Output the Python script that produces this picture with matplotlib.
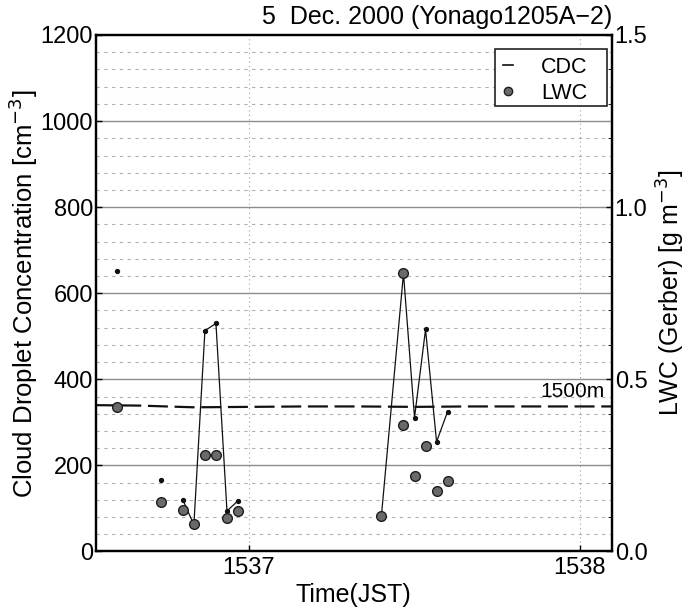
import matplotlib
matplotlib.use("Agg")
import matplotlib.pyplot as plt
from matplotlib.lines import Line2D
from matplotlib.patches import Rectangle
import numpy as np

plt.rcParams['font.family'] = ['Liberation Sans', 'DejaVu Sans']

# ---- data (time in seconds after 15:36:00) ----
cdc_time = [36, 44, 48, 50, 52, 54, 56, 58, 84, 88, 90, 92, 94, 96]
cdc_value = [652, 166, 120, 62, 513, 530, 94, 118, 83, 646, 311, 516, 255, 325]
cdc_segment = [0, 1, 2, 2, 2, 2, 2, 2, 3, 3, 3, 3, 3, 3]

lwc_time = [36, 44, 48, 50, 52, 54, 56, 58, 84, 88, 88, 90, 92, 94, 96]
lwc_value = [0.42, 0.145, 0.12, 0.079, 0.28, 0.28, 0.098, 0.118,
             0.104, 0.81, 0.367, 0.219, 0.307, 0.177, 0.205]

alt_time = [32, 40, 50, 60, 70, 80, 90, 100, 110, 120, 126]
alt_value = [340, 339, 335, 336, 337, 337, 336, 337, 337, 337, 337]
alt_label = "1500m"

x_ticks = [60, 120]
x_tick_labels = ["1537", "1538"]
left_ticks = [0, 200, 400, 600, 800, 1000, 1200]
right_ticks = [0.0, 0.5, 1.0, 1.5]

title = "5  Dec. 2000 (Yonago1205A\u22122)"

# ---- figure ----
fig = plt.figure(figsize=(6.89, 6.14), dpi=100)
ax = fig.add_axes([0.1389, 0.1018, 0.8882 - 0.1389, 0.943 - 0.1018])
ax.set_xlim(32.2, 125.8)
ax.set_ylim(0, 1200)

# grid
for v in np.arange(40, 1200, 40):
    if v % 200 == 0:
        ax.axhline(v, color='#8c8c8c', lw=1.0, zorder=1)
    else:
        ax.axhline(v, color='#b0b0b0', lw=0.8, ls=(0, (3, 4)), zorder=1)
for xv in x_ticks:
    ax.axvline(xv, color='#a0a0a0', lw=0.8, ls=(0, (1, 3)), zorder=1)

# altitude dashed line
ax.plot(alt_time, alt_value, color='#111111', lw=1.6, ls=(0, (9, 3)), zorder=3)
ax.text(124.5, 350, alt_label, ha='right', va='bottom', fontsize=15, zorder=4)

# CDC
ct = np.array(cdc_time); cv = np.array(cdc_value); cs = np.array(cdc_segment)
for s in np.unique(cs):
    m = cs == s
    ax.plot(ct[m], cv[m], color='#111111', lw=0.9, marker='o', ms=2.8,
            mfc='#111111', mec='#111111', zorder=5)

ax.set_xticks(x_ticks)
ax.set_xticklabels(x_tick_labels)
ax.set_yticks(left_ticks)
ax.tick_params(axis='both', direction='in', labelsize=17, length=4, width=1)
ax.tick_params(axis='x', pad=4)
ax.tick_params(axis='y', pad=2)
ax.set_xlabel("Time(JST)", fontsize=18, labelpad=3)
ax.set_ylabel("Cloud Droplet Concentration [cm$^{-3}$]", fontsize=18.5, labelpad=0)
for sp in ax.spines.values():
    sp.set_linewidth(1.6)

# LWC on right axis
ax2 = ax.twinx()
ax2.set_ylim(0, 1.5)
ax2.plot(lwc_time, lwc_value, ls='none', marker='o', ms=7,
         mfc='#6a6a6a', mec='#1e1e1e', mew=1.0, zorder=6)
ax2.set_yticks(right_ticks)
ax2.set_yticklabels(["%.1f" % v for v in right_ticks])
ax2.set_yticks(np.arange(0, 1.51, 0.1), minor=True)
ax2.tick_params(axis='y', direction='in', labelsize=17, length=4, width=1, pad=2)
ax2.tick_params(axis='y', which='minor', direction='in', length=3)
ax2.set_ylabel("LWC (Gerber) [g m$^{-3}$]", fontsize=18, labelpad=5)
for sp in ax2.spines.values():
    sp.set_linewidth(1.6)

# legend box
ax2.add_patch(Rectangle((0.7734, 0.8625), 0.9903 - 0.7734, 0.9729 - 0.8625,
                        transform=ax2.transAxes, facecolor='white',
                        edgecolor='#222222', lw=1.2, zorder=9))
handles = [Line2D([], [], color='#111111', lw=1.2),
           Line2D([], [], ls='none', marker='o', ms=6, mfc='#6a6a6a', mec='#1e1e1e')]
leg = ax2.legend(handles, ["CDC", "LWC"], loc='upper left',
                 bbox_to_anchor=(0.7734, 0.9729), borderaxespad=0,
                 fontsize=15.5, handlelength=0.5, handletextpad=1.3,
                 frameon=False, labelspacing=0.25, borderpad=0.35)
leg.set_zorder(10)

fig.text(0.8882, 0.961, title, ha='right', va='baseline', fontsize=18)

fig.savefig("out.png", dpi=100)
